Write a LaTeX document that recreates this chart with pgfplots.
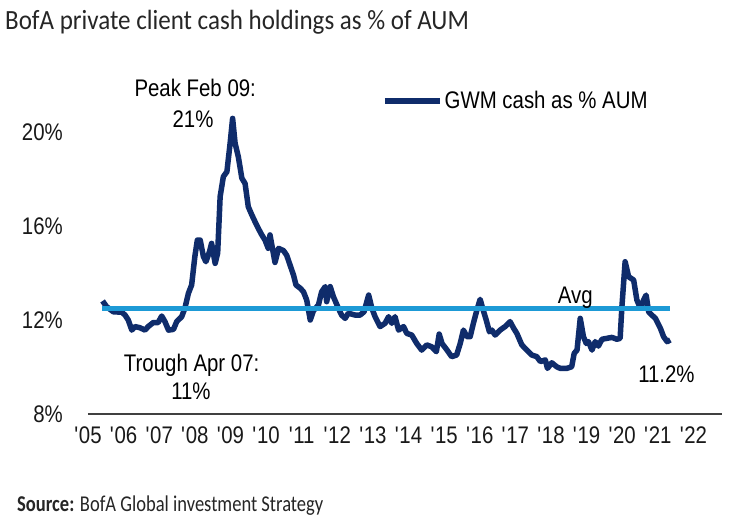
\documentclass[border=0pt]{standalone}
\usepackage{pgfplots}
\pgfplotsset{compat=1.18}
\usepackage{fontspec}
\setmainfont{Liberation Sans}[FakeStretch=0.85]
\newfontfamily\titlefont{Carlito}[FakeStretch=0.9]
\newfontfamily\srcfont{Carlito}[FakeStretch=0.82]
\definecolor{navy}{HTML}{0F2C6B}
\definecolor{avgblue}{HTML}{1D9AD6}
\newcommand\q{\textquotesingle}
\pgfplotstableread{
x y
2005.41 12.81
2005.52 12.57
2005.71 12.35
2005.95 12.33
2006.04 12.21
2006.13 12.00
2006.23 11.57
2006.32 11.72
2006.46 11.67
2006.60 11.57
2006.69 11.72
2006.83 11.89
2006.97 11.89
2007.07 12.17
2007.16 11.93
2007.26 11.57
2007.40 11.60
2007.49 11.93
2007.63 12.14
2007.72 12.50
2007.82 13.14
2007.91 13.49
2008.00 14.70
2008.07 15.40
2008.15 15.40
2008.24 14.70
2008.31 14.48
2008.41 14.90
2008.47 15.26
2008.57 14.41
2008.64 14.84
2008.71 17.25
2008.80 18.10
2008.90 18.31
2008.99 19.52
2009.06 20.58
2009.13 19.52
2009.22 18.95
2009.32 18.03
2009.41 17.81
2009.50 16.82
2009.60 16.47
2009.69 16.18
2009.78 15.90
2009.88 15.62
2009.97 15.40
2010.06 15.05
2010.11 15.62
2010.25 14.45
2010.35 15.05
2010.49 14.95
2010.58 14.75
2010.67 14.35
2010.77 13.91
2010.84 13.49
2010.96 13.35
2011.05 13.20
2011.14 12.85
2011.24 12.00
2011.33 12.40
2011.47 12.64
2011.56 13.20
2011.66 13.42
2011.70 12.78
2011.80 13.42
2011.89 12.99
2012.03 12.50
2012.12 12.21
2012.22 12.07
2012.31 12.29
2012.50 12.21
2012.64 12.21
2012.75 12.35
2012.88 13.06
2012.97 12.50
2013.06 12.14
2013.20 11.72
2013.34 11.86
2013.44 12.14
2013.53 11.86
2013.62 12.14
2013.72 11.57
2013.86 11.72
2013.95 11.43
2014.09 11.36
2014.23 11.00
2014.37 10.72
2014.51 10.94
2014.65 10.86
2014.78 10.65
2014.86 11.40
2014.94 11.00
2015.08 10.72
2015.21 10.44
2015.35 10.51
2015.45 11.00
2015.54 11.57
2015.64 11.29
2015.73 11.29
2015.82 11.86
2015.92 12.43
2016.01 12.88
2016.08 12.50
2016.18 12.00
2016.27 11.50
2016.34 11.57
2016.43 11.36
2016.57 11.57
2016.71 11.72
2016.85 11.93
2016.95 11.65
2017.04 11.43
2017.18 10.94
2017.32 10.72
2017.46 10.51
2017.60 10.44
2017.70 10.23
2017.84 10.30
2017.90 9.94
2018.02 10.18
2018.16 10.01
2018.26 9.94
2018.44 9.94
2018.58 10.01
2018.65 10.58
2018.73 10.72
2018.82 12.07
2018.91 11.29
2018.99 11.00
2019.05 11.08
2019.15 10.72
2019.24 11.08
2019.33 10.89
2019.43 11.18
2019.57 11.22
2019.71 11.26
2019.85 11.18
2019.94 11.22
2019.99 12.57
2020.08 14.48
2020.18 13.84
2020.32 13.70
2020.41 12.85
2020.51 12.50
2020.60 12.85
2020.67 13.06
2020.74 12.35
2020.83 12.21
2020.93 12.07
2021.07 11.65
2021.16 11.29
2021.26 11.08
2021.35 11.15
}\gwm
\begin{document}
\begin{tikzpicture}[x=1pt,y=1pt]
\path[use as bounding box, fill=white] (0,0) rectangle (745,525);
\node[anchor=base west, inner sep=0pt, font=\titlefont\fontsize{27.8}{32}\selectfont, text=black!85] at (5,495) {BofA private client cash holdings as \% of AUM};
\node[anchor=base west, inner sep=0pt, font=\srcfont\fontsize{22.6}{27}\selectfont, text=black!85] at (17,13) {\textbf{Source:} BofA Global investment Strategy};
\begin{axis}[
  at={(88pt,111pt)}, anchor=south west,
  scale only axis, width=634pt, height=305.5pt,
  xmin=2005, xmax=2022.8, ymin=8, ymax=21,
  clip=false,
  axis lines*=left,
  x axis line style={-, draw=black!75, line width=1.6pt},
  y axis line style={draw=none},
  major tick length=0pt,
  xtick={2005,...,2022},
  xticklabels={\q05,\q06,\q07,\q08,\q09,\q10,\q11,\q12,\q13,\q14,\q15,\q16,\q17,\q18,\q19,\q20,\q21,\q22},
  ytick={8,12,16,20},
  yticklabels={8\%,12\%,16\%,20\%},
  tick label style={font=\fontsize{24}{28}\selectfont, text=black!90},
  xticklabel style={anchor=north, inner sep=0pt, yshift=-13pt},
  yticklabel style={anchor=east, inner sep=0pt, xshift=-25pt},
  legend style={at={(rel axis cs:0.4637,1.0245)}, anchor=west, draw=none, fill=none, inner sep=0pt,
    font=\fontsize{24}{28}\selectfont, nodes={inner sep=2pt}},
  legend image code/.code={\draw[navy, line width=5.5pt] (0pt,0pt) -- (55pt,0pt);},
]
\addplot[navy, line width=5.5pt, line join=round] table[x=x,y=y] {\gwm};
\addlegendentry{GWM cash as \% AUM}
\addplot[avgblue, line width=5pt, forget plot] coordinates {(2005.39,12.5) (2021.35,12.5)};
\node[anchor=base, inner sep=0pt, font=\fontsize{24}{28}\selectfont] at (axis cs:2008.01,21.49) {Peak Feb 09:};
\node[anchor=base, inner sep=0pt, font=\fontsize{24}{28}\selectfont] at (axis cs:2007.95,20.21) {21\%};
\node[anchor=base, inner sep=0pt, font=\fontsize{24}{28}\selectfont] at (axis cs:2007.91,9.79) {Trough Apr 07:};
\node[anchor=base, inner sep=0pt, font=\fontsize{24}{28}\selectfont] at (axis cs:2007.89,8.60) {11\%};
\node[anchor=base, inner sep=0pt, font=\fontsize{24}{28}\selectfont] at (axis cs:2018.68,12.72) {Avg};
\node[anchor=base, inner sep=0pt, font=\fontsize{24}{28}\selectfont] at (axis cs:2021.24,9.36) {11.2\%};
\end{axis}
\end{tikzpicture}
\end{document}
